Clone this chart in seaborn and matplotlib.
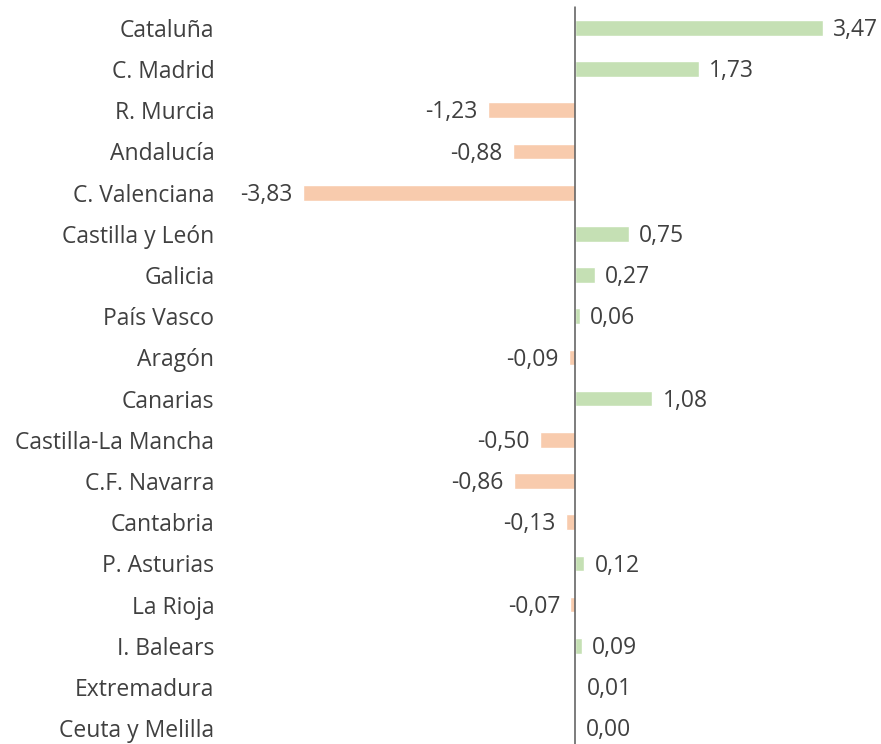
import pandas as pd
import seaborn as sns
import matplotlib.pyplot as plt

# Datos
regiones = ['Cataluña', 'C. Madrid', 'R. Murcia', 'Andalucía', 'C. Valenciana',
            'Castilla y León', 'Galicia', 'País Vasco', 'Aragón', 'Canarias',
            'Castilla-La Mancha', 'C.F. Navarra', 'Cantabria', 'P. Asturias',
            'La Rioja', 'I. Balears', 'Extremadura', 'Ceuta y Melilla']
valores = [3.47, 1.73, -1.23, -0.88, -3.83, 0.75, 0.27, 0.06, -0.09, 1.08,
           -0.50, -0.86, -0.13, 0.12, -0.07, 0.09, 0.01, 0.00]

df = pd.DataFrame({'region': regiones, 'valor': valores})
df['signo'] = ['pos' if v >= 0 else 'neg' for v in df['valor']]

sns.set_theme(style='white')
plt.rcParams['font.family'] = ['Open Sans', 'DejaVu Sans']

fig = plt.figure(figsize=(8.81, 7.44), dpi=100)
ax = fig.add_axes([220 / 881, 3 / 744, 661 / 881, 1 - 10.3 / 744])

sns.barplot(data=df, y='region', x='valor', hue='signo', orient='h',
            palette={'pos': '#C5E0B4', 'neg': '#F8CBAD'}, dodge=False,
            legend=False, width=0.38, saturation=1, ax=ax)

ax.set_xlim(-4.99, 4.29)
ax.set_ylim(17.31, -0.5)
ax.axvline(0, ymin=-0.01, ymax=1, color='#595959', lw=1.1, clip_on=False)

# Etiquetas de valores
fs = 16.5
for i, v in enumerate(valores):
    txt = f'{v:.2f}'.replace('.', ',')
    if v >= 0:
        ax.annotate(txt, (v, i), xytext=(7.5, -1.5), textcoords='offset points',
                    ha='left', va='center', fontsize=fs, color='#404040')
    else:
        ax.annotate(txt, (v, i), xytext=(-7.5, -1.5), textcoords='offset points',
                    ha='right', va='center', fontsize=fs, color='#404040')

ax.set_xlabel('')
ax.set_ylabel('')
ax.set_xticks([])
ax.tick_params(axis='y', length=0, pad=4, labelsize=fs, labelcolor='#404040')
sns.despine(ax=ax, left=True, bottom=True)

plt.savefig('out.png', dpi=100)
